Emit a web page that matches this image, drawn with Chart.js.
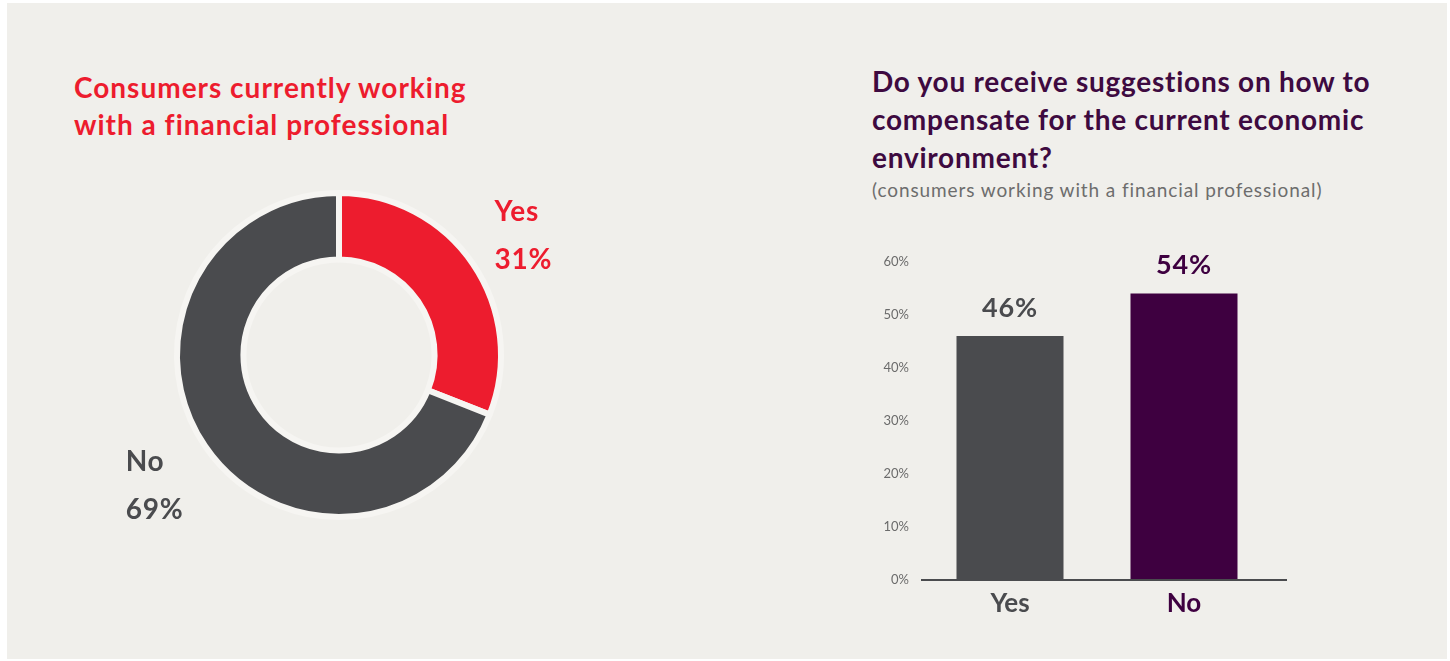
<!DOCTYPE html>
<html>
<head>
<meta charset="utf-8">
<script src="https://cdn.jsdelivr.net/npm/chart.js@4.4.1/dist/chart.umd.min.js"></script>
<style>
  body{margin:0;background:#fff;font-family:Lato,"Noto Sans",sans-serif;}
  .panel{position:absolute;left:7px;top:3px;width:1440px;height:656px;background:#f0efeb;}
  .title{position:absolute;font-weight:700;font-size:28px;line-height:37px;margin:0;letter-spacing:1px;}
  #leftTitle{left:74px;top:69px;color:#ed1c2e;}
  #rightTitle{left:872px;top:62px;color:#3e0a40;line-height:38px;letter-spacing:0.75px;}
  #rightSub{position:absolute;left:872px;top:178px;font-size:19px;line-height:24px;color:#6d6d6d;letter-spacing:0.9px;}
  #donutBox{position:absolute;left:100px;top:180px;width:500px;height:360px;}
  #barBox{position:absolute;left:860px;top:240px;width:440px;height:390px;}
</style>
</head>
<body>
<div class="panel"></div>
<h2 class="title" id="leftTitle">Consumers currently working<br>with a financial professional</h2>
<h2 class="title" id="rightTitle">Do you receive suggestions on how to<br>compensate for the current economic<br>environment?</h2>
<div id="rightSub">(consumers working with a financial professional)</div>
<div id="donutBox"><canvas id="donutChart"></canvas></div>
<div id="barBox"><canvas id="barChart"></canvas></div>

<script>
// Donut: consumers working with a financial professional
const donutLabels = ['Yes', 'No'];
const donutValues = [31, 69];
const donutColors = ['#ed1c2e', '#4a4b4e'];

// Bars: receive suggestions on the economic environment
const barCats = ['Yes', 'No'];
const barValues = [46, 54];
const barColors = ['#4a4b4e', '#3e0040'];
const yTicks = [0, 10, 20, 30, 40, 50, 60];

const FONT = 'Lato, "Noto Sans", sans-serif';
Chart.defaults.font.family = FONT;

// Two-line callouts ("Yes" / "31%") placed outside each slice along its mid angle
const donutCallouts = {
  id: 'donutCallouts',
  afterDatasetsDraw(chart){
    const {ctx} = chart;
    ctx.save();
    ctx.font = 'bold 28px ' + FONT;
    ctx.letterSpacing = '0.8px';
    ctx.textBaseline = 'middle';
    ctx.textAlign = 'left';
    chart.getDatasetMeta(0).data.forEach((arc, i)=>{
      const mid = (arc.startAngle + arc.endAngle) / 2;
      const r = arc.outerRadius + 61;
      const ax = arc.x + Math.cos(mid) * r;
      const ay = arc.y + Math.sin(mid) * r + 6;
      const lines = [donutLabels[i], donutValues[i] + '%'];
      const w = Math.max(...lines.map(t => ctx.measureText(t).width));
      ctx.fillStyle = donutColors[i];
      lines.forEach((t, k)=> ctx.fillText(t, ax - w / 2, ay + (k - 0.5) * 48));
    });
    ctx.restore();
  }
};

new Chart(document.getElementById('donutChart'), {
  type: 'doughnut',
  data: {
    labels: donutLabels,
    datasets: [{
      data: donutValues,
      backgroundColor: donutColors,
      borderColor: '#f6f5f2',
      borderWidth: 6,
      hoverOffset: 0
    }]
  },
  options: {
    responsive: true,
    maintainAspectRatio: false,
    animation: false,
    cutout: '59%',
    layout: {padding: {left: 74, top: 10, right: 96, bottom: 20}},
    plugins: {legend: {display: false}, tooltip: {enabled: false}}
  },
  plugins: [donutCallouts]
});

// Percent labels above each bar
const barValueLabels = {
  id: 'barValueLabels',
  afterDatasetsDraw(chart){
    const {ctx} = chart;
    ctx.save();
    ctx.font = 'bold 27px ' + FONT;
    ctx.letterSpacing = '0.8px';
    ctx.textAlign = 'center';
    ctx.textBaseline = 'middle';
    chart.getDatasetMeta(0).data.forEach((bar, i)=>{
      ctx.fillStyle = barColors[i];
      ctx.fillText(barValues[i] + '%', bar.x, bar.y - 28);
    });
    ctx.restore();
  }
};

// Baseline runs a little past the plot on the right
const baseline = {
  id: 'baseline',
  afterDatasetsDraw(chart){
    const {ctx, chartArea: a} = chart;
    const y = chart.scales.y.getPixelForValue(0);
    ctx.save();
    ctx.strokeStyle = '#4a4b4e';
    ctx.lineWidth = 2;
    ctx.beginPath();
    ctx.moveTo(a.left - 2, y);
    ctx.lineTo(a.right + 16, y);
    ctx.stroke();
    ctx.restore();
  }
};

new Chart(document.getElementById('barChart'), {
  type: 'bar',
  data: {
    labels: barCats,
    datasets: [{
      data: barValues,
      backgroundColor: barColors,
      barPercentage: 0.615,
      categoryPercentage: 1
    }]
  },
  options: {
    responsive: true,
    maintainAspectRatio: false,
    animation: false,
    layout: {padding: {left: 0, top: 18, right: 29, bottom: 9}},
    plugins: {legend: {display: false}, tooltip: {enabled: false}},
    scales: {
      x: {
        grid: {display: false, drawTicks: false},
        border: {display: false},
        afterFit(s){ s.height = 41; },
        ticks: {
          padding: 8,
          color: ctx => barColors[ctx.index],
          font: {size: 26, weight: 'bold'}
        }
      },
      y: {
        min: yTicks[0],
        max: yTicks[yTicks.length - 1],
        grid: {display: false, drawTicks: false},
        border: {display: false},
        afterFit(s){ s.width = 63; },
        afterBuildTicks(s){ s.ticks = yTicks.map(v => ({value: v})); },
        ticks: {
          padding: 14,
          color: '#6b6b6b',
          font: {size: 13},
          callback: v => v + '%'
        }
      }
    }
  },
  plugins: [barValueLabels, baseline]
});
</script>
</body>
</html>
